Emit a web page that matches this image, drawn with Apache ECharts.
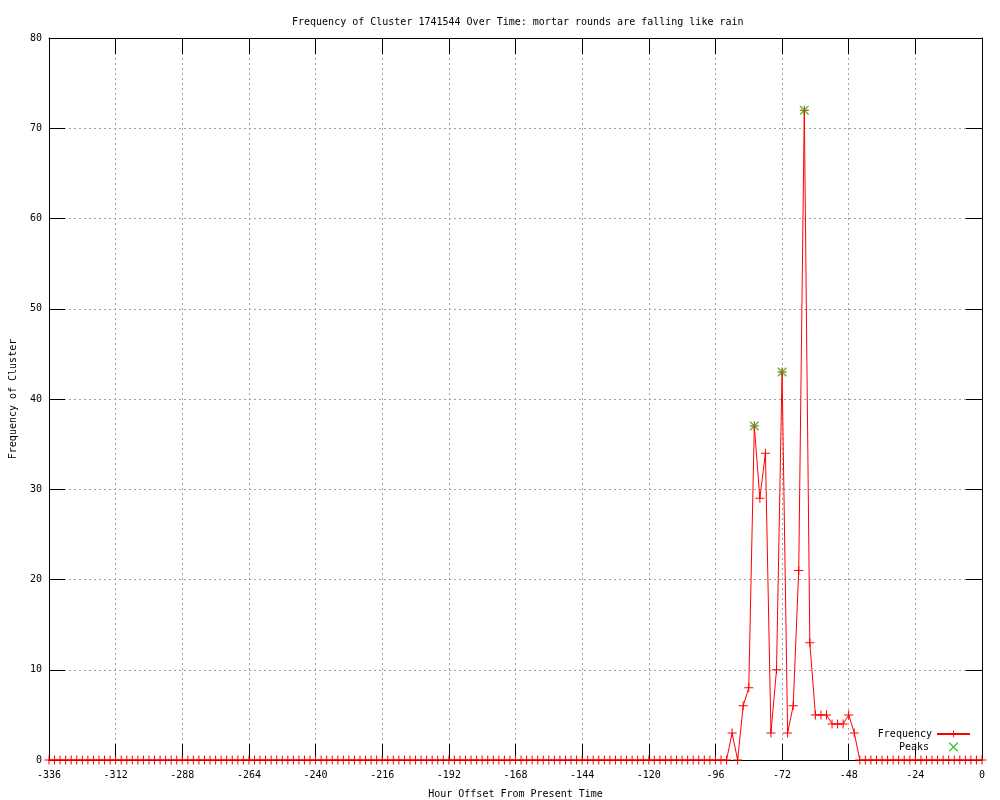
<!DOCTYPE html>
<html>
<head>
<meta charset="utf-8">
<script src="https://cdn.jsdelivr.net/npm/echarts@6/dist/echarts.min.js"></script>
<style>html,body{margin:0;padding:0;background:#fff}#c{width:1000px;height:800px}</style>
</head>
<body>
<div id="c"></div>
<script>
// Frequency every 2 hours from -336 to 0
const frequency = [
  0,0,0,0,0,0,0,0,0,0,
  0,0,0,0,0,0,0,0,0,0,
  0,0,0,0,0,0,0,0,0,0,
  0,0,0,0,0,0,0,0,0,0,
  0,0,0,0,0,0,0,0,0,0,
  0,0,0,0,0,0,0,0,0,0,
  0,0,0,0,0,0,0,0,0,0,
  0,0,0,0,0,0,0,0,0,0,
  0,0,0,0,0,0,0,0,0,0,
  0,0,0,0,0,0,0,0,0,0,
  0,0,0,0,0,0,0,0,0,0,
  0,0,0,0,0,0,0,0,0,0,
  0,0,0,
  3,0,6,8,37,29,34,3,10,43,3,6,21,72,13,5,5,5,4,4,4,5,3,
  0,0,0,0,0,0,0,0,0,0,
  0,0,0,0,0,0,0,0,0,0,
  0,0,0
];
const startHour = -336;
const stepHours = 2;
const hours = frequency.map((_, i) => startHour + stepHours * i);
const peakHours = [-82, -72, -64];
const peakValues = [37, 43, 72];
const xTicks = { min: -336, max: 0, interval: 24 };
const yTicks = { min: 0, max: 80, interval: 10 };

const FONT = 'DejaVu Sans Mono';
const plusPath = 'path://M0,4H9V5H0Z M4,0H5V9H4Z';
const crossPath = 'path://M0,0L1,0L9,8L9,9L8,9L0,1Z M9,0L9,1L1,9L0,9L0,8L8,0Z';

const chart = echarts.init(document.getElementById('c'), null, { renderer: 'canvas' });
const gridLine = { show: true, lineStyle: { color: '#a0a0a0', type: [2, 3], width: 1 } };
const tick = { show: true, inside: true, length: 16, lineStyle: { color: '#000', width: 1 } };
const axLine = { show: true, onZero: false, lineStyle: { color: '#000', width: 1 } };
const legendText = { fontFamily: FONT, fontSize: 10, color: '#000' };

chart.setOption({
  animation: false,
  backgroundColor: '#fff',
  textStyle: { fontFamily: FONT, fontSize: 10, color: '#000' },
  title: {
    text: 'Frequency of Cluster 1741544 Over Time: mortar rounds are falling like rain',
    left: 287, top: 12,
    textStyle: { fontFamily: FONT, fontSize: 10, fontWeight: 'normal', color: '#000' }
  },
  grid: { left: 49, right: 18, top: 38, bottom: 40, containLabel: false, outerBoundsMode: 'none' },
  legend: [
    {
      orient: 'horizontal', right: 24, top: 724, align: 'right',
      itemWidth: 33, itemHeight: 9, textStyle: legendText, data: ['Frequency']
    },
    {
      orient: 'horizontal', right: 37, top: 737, align: 'right',
      itemWidth: 33, itemHeight: 9,
      textStyle: Object.assign({ padding: [0, 3, 0, 0] }, legendText), data: ['Peaks']
    }
  ],
  xAxis: [
    {
      type: 'value', position: 'bottom', min: xTicks.min, max: xTicks.max, interval: xTicks.interval,
      axisLine: axLine, axisTick: tick, splitLine: gridLine,
      axisLabel: { color: '#000', fontFamily: FONT, fontSize: 10, margin: 10 },
      name: 'Hour Offset From Present Time', nameLocation: 'middle', nameGap: 29,
      nameTextStyle: { fontFamily: FONT, fontSize: 10, color: '#000' }
    },
    {
      type: 'value', position: 'top', min: xTicks.min, max: xTicks.max, interval: xTicks.interval,
      axisLine: axLine, axisTick: tick, splitLine: { show: false }, axisLabel: { show: false }
    }
  ],
  yAxis: [
    {
      type: 'value', position: 'left', min: yTicks.min, max: yTicks.max, interval: yTicks.interval,
      axisLine: axLine, axisTick: tick, splitLine: gridLine,
      axisLabel: { color: '#000', fontFamily: FONT, fontSize: 10, margin: 7 },
      name: 'Frequency of Cluster', nameLocation: 'middle', nameGap: 31,
      nameTextStyle: { fontFamily: FONT, fontSize: 10, color: '#000' }
    },
    {
      type: 'value', position: 'right', min: yTicks.min, max: yTicks.max, interval: yTicks.interval,
      axisLine: axLine, axisTick: tick, splitLine: { show: false }, axisLabel: { show: false }
    }
  ],
  series: [
    {
      name: 'Frequency', type: 'line',
      data: hours.map((h, i) => [h, frequency[i]]),
      showAllSymbol: true,
      symbol: plusPath, symbolSize: 9,
      lineStyle: { color: '#ff0000', width: 1 },
      itemStyle: { color: '#ff0000' },
      z: 3
    },
    {
      name: 'Peaks', type: 'scatter',
      data: peakHours.map((h, i) => [h, peakValues[i]]),
      symbol: crossPath, symbolSize: 9,
      itemStyle: { color: '#00c000' },
      z: 4
    }
  ]
});
</script>
</body>
</html>
